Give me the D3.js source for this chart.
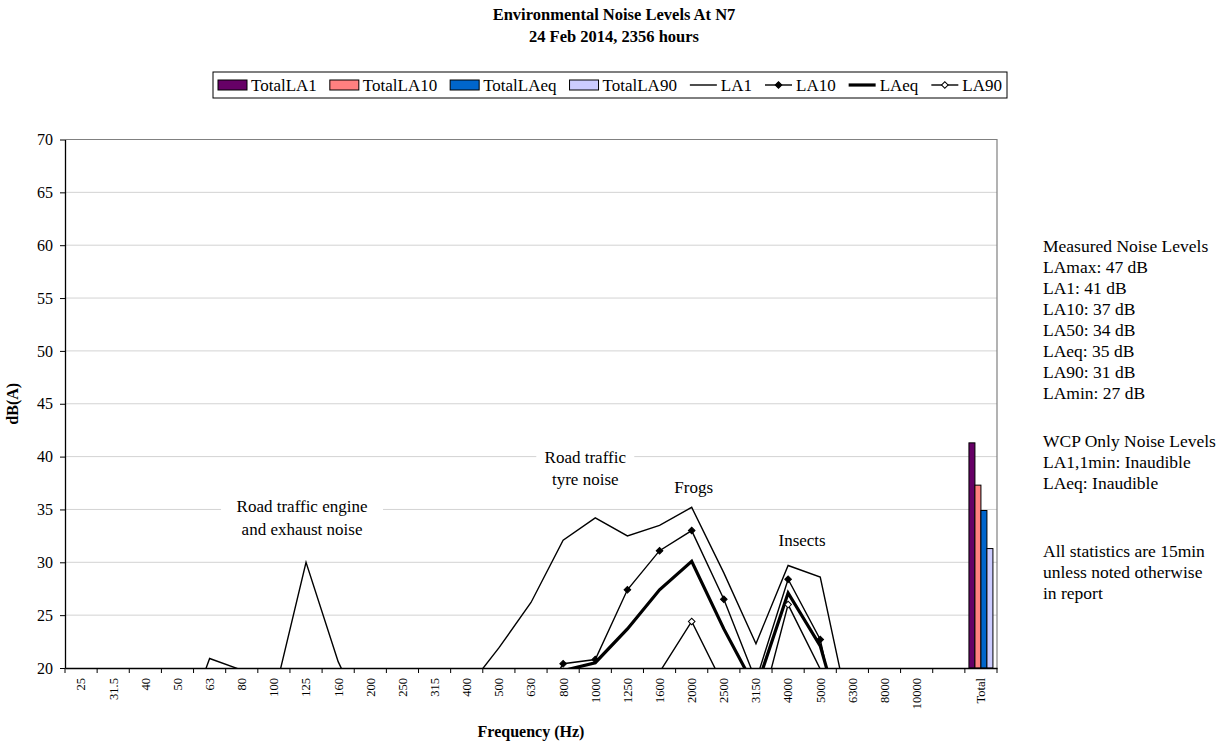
<!DOCTYPE html>
<html>
<head>
<meta charset="utf-8">
<script src="https://cdn.jsdelivr.net/npm/d3@7"></script>
<style>
  body { margin: 0; background: #fff; }
  svg { display: block; }
  text { font-family: "Liberation Serif", "Times New Roman", serif; fill: #000; }
</style>
</head>
<body>
<svg id="chart" width="1228" height="746"></svg>
<script>
// One-third-octave band centre frequencies (Hz)
const freqs = ["25","31.5","40","50","63","80","100","125","160","200","250","315","400",
  "500","630","800","1000","1250","1600","2000","2500","3150","4000","5000","6300","8000","10000"];

// Statistical levels per band, dB(A) (axis starts at 20 dB, lower values fall off the chart)
const la1  = [10.5, 9.8, 11.2, 12.6, 20.9, 19.8, 17.3, 30.0, 20.6, 14.2, 12.8, 13.5, 18.0,
  21.9, 26.2, 32.1, 34.2, 32.5, 33.5, 35.2, 29.0, 22.3, 29.7, 28.6, 14.4, 11.5, 9.0];
const la10 = [7.5, 7.0, 8.0, 9.0, 16.5, 14.5, 13.0, 17.5, 15.0, 10.5, 9.5, 10.0, 12.0,
  12.5, 15.3, 20.4, 20.8, 27.4, 31.1, 33.0, 26.5, 18.8, 28.4, 22.7, 8.7, 6.5, 5.0];
const laeq = [7.0, 6.5, 7.5, 8.0, 15.5, 13.5, 12.0, 18.6, 14.0, 9.5, 8.5, 9.0, 11.0,
  11.5, 13.0, 19.75, 20.5, 23.7, 27.4, 30.1, 23.7, 18.0, 27.1, 22.1, 11.4, 8.0, 6.0];
const la90 = [4.0, 4.0, 4.5, 5.0, 9.0, 8.0, 7.0, 10.5, 8.5, 5.5, 5.0, 5.5, 7.0,
  8.0, 10.0, 12.5, 14.0, 16.5, 19.6, 24.4, 18.3, 14.4, 26.0, 19.9, 6.5, 4.5, 3.5];

// Overall (broadband) levels shown as the "Total" bar group
const totalNames  = ["TotalLA1", "TotalLA10", "TotalLAeq", "TotalLA90"];
const totalValues = [41.3, 37.3, 34.9, 31.3];
const totalColors = ["#660066", "#FF8080", "#0066CC", "#CCCCFF"];

const yTicks = [20, 25, 30, 35, 40, 45, 50, 55, 60, 65, 70];

const notesMeasured = ["Measured Noise Levels", "LAmax: 47 dB", "LA1: 41 dB", "LA10: 37 dB",
  "LA50: 34 dB", "LAeq: 35 dB", "LA90: 31 dB", "LAmin: 27 dB"];
const notesWcp = ["WCP Only Noise Levels", "LA1,1min: Inaudible", "LAeq: Inaudible"];
const notesPeriod = ["All statistics are 15min", "unless noted otherwise", "in report"];

// Noise source captions: text, anchor band and level
const sourceLabels = [
  { lines: ["Road traffic engine", "and exhaust noise"], f: "125", v: 35.3 },
  { lines: ["Road traffic", "tyre noise"], f: "1000", v: 40.0 },
  { lines: ["Frogs"], f: "2000", v: 37.1 },
  { lines: ["Insects"], f: "4000", v: 32.1 }
];

// ---- layout ----
const svg = d3.select("#chart");
const plot = { left: 65, right: 997, top: 139.5, bottom: 668 };
const categories = [...freqs, " ", "Total"];

const x = d3.scaleBand().domain(categories).range([plot.left, plot.right]).padding(0);
const y = d3.scaleLinear().domain([20, 70]).range([plot.bottom, plot.top]);
const cx = f => x(f) + x.bandwidth() / 2;

// Title
svg.append("text").attr("x", 614).attr("y", 20).attr("text-anchor", "middle")
  .style("font-weight", "bold").style("font-size", "16.5px")
  .text("Environmental Noise Levels At N7");
svg.append("text").attr("x", 614).attr("y", 42).attr("text-anchor", "middle")
  .style("font-weight", "bold").style("font-size", "16.5px")
  .text("24 Feb 2014, 2356 hours");

// Gridlines
svg.append("g").selectAll("line").data(yTicks.filter(t => t > 20 && t < 70)).join("line")
  .attr("x1", plot.left).attr("x2", plot.right)
  .attr("y1", d => y(d)).attr("y2", d => y(d))
  .attr("stroke", "#d3d3d3").attr("stroke-width", 1);

// Plot area border (top & right)
svg.append("path")
  .attr("d", `M${plot.left},${y(70)}H${plot.right}V${plot.bottom}`)
  .attr("fill", "none").attr("stroke", "#808080").attr("stroke-width", 1.2);

// Source captions; the two traffic captions sit in white boxes that cut the gridline
const captionStyle = [
  { dx: -4, boxW: 162 },
  { dx: -10, boxW: 98 },
  { dx: 2, boxW: 0 },
  { dx: 14, boxW: 0 }
];
const annG = svg.append("g");
sourceLabels.forEach((a, k) => {
  const st = captionStyle[k];
  const g = annG.append("g");
  const x0 = cx(a.f) + st.dx;
  const y0 = y(a.v);
  if (st.boxW) {
    g.append("rect")
      .attr("x", x0 - st.boxW / 2).attr("y", y0 - 12)
      .attr("width", st.boxW).attr("height", 22.5 * (a.lines.length - 1) + 24)
      .attr("fill", "#fff");
  }
  a.lines.forEach((ln, i) =>
    g.append("text").attr("x", x0).attr("y", y0 + i * 22.5)
      .attr("dy", "0.35em").attr("text-anchor", "middle")
      .style("font-size", "17px").text(ln));
});

// Total bars
const xSub = d3.scaleBand().domain(totalNames).range([0, x.bandwidth()])
  .paddingInner(0).paddingOuter(0.68);
svg.append("g").attr("transform", `translate(${x("Total")},0)`)
  .selectAll("rect").data(totalNames).join("rect")
  .attr("x", d => xSub(d)).attr("width", xSub.bandwidth())
  .attr("y", (d, i) => y(totalValues[i]))
  .attr("height", (d, i) => y(20) - y(totalValues[i]))
  .attr("fill", (d, i) => totalColors[i])
  .attr("stroke", "#000").attr("stroke-width", 1);

// Spectrum lines, clipped to the plot area
svg.append("clipPath").attr("id", "plotClip").append("rect")
  .attr("x", plot.left).attr("y", plot.top)
  .attr("width", plot.right - plot.left).attr("height", plot.bottom - plot.top);

const series = [
  { name: "LA1",  values: la1,  width: 1.4, marker: null },
  { name: "LA10", values: la10, width: 1.4, marker: "filled" },
  { name: "LAeq", values: laeq, width: 3.2, marker: null },
  { name: "LA90", values: la90, width: 1.4, marker: "open" }
];

const line = d3.line().x((d, i) => cx(freqs[i])).y(d => y(d));
const linesG = svg.append("g").attr("clip-path", "url(#plotClip)");
series.forEach(s => {
  linesG.append("path").attr("d", line(s.values))
    .attr("fill", "none").attr("stroke", "#000")
    .attr("stroke-width", s.width).attr("stroke-linejoin", "miter");
});
const diamond = d3.symbol(d3.symbolSquare, 22);
series.filter(s => s.marker).forEach(s => {
  const pts = s.values.map((v, i) => ({ v, f: freqs[i] })).filter(p => p.v >= 20);
  linesG.append("g").selectAll("path").data(pts).join("path")
    .attr("d", diamond)
    .attr("transform", p => `translate(${cx(p.f)},${y(p.v)}) rotate(45)`)
    .attr("fill", s.marker === "filled" ? "#000" : "#fff")
    .attr("stroke", "#000").attr("stroke-width", 1);
});

// Y axis
const yAxis = svg.append("g").attr("transform", `translate(${plot.left},0)`)
  .call(d3.axisLeft(y).tickValues(yTicks).tickSize(5).tickPadding(7).tickSizeOuter(0));
yAxis.select(".domain").attr("stroke", "#000").attr("stroke-width", 1.3);
yAxis.selectAll(".tick line").attr("stroke", "#000");
yAxis.selectAll(".tick text").style("font-size", "16px")
  .style("font-family", '"Liberation Serif", serif');

// X axis: ticks on category boundaries, vertical labels at centres
const xAxis = svg.append("g").attr("transform", `translate(0,${plot.bottom})`)
  .call(d3.axisBottom(x).tickSize(0).tickSizeOuter(0));
xAxis.select(".domain").attr("stroke", "#000").attr("stroke-width", 1.3);
xAxis.selectAll(".tick text")
  .attr("transform", "rotate(-90)")
  .attr("x", -10).attr("y", 0).attr("dy", "0.35em")
  .style("text-anchor", "end").style("font-size", "12.5px")
  .style("font-family", '"Liberation Serif", serif');
const boundaries = [...categories.map(c => x(c)), plot.right];
xAxis.append("g").selectAll("line").data(boundaries).join("line")
  .attr("x1", d => d).attr("x2", d => d).attr("y1", 0).attr("y2", 5)
  .attr("stroke", "#000");

// Axis titles
svg.append("text").attr("x", (plot.left + plot.right) / 2).attr("y", 737)
  .attr("text-anchor", "middle").style("font-weight", "bold").style("font-size", "16px")
  .text("Frequency (Hz)");
svg.append("text").attr("transform", `translate(18,${(plot.top + plot.bottom) / 2}) rotate(-90)`)
  .attr("text-anchor", "middle").style("font-weight", "bold").style("font-size", "16px")
  .text("dB(A)");

// Legend: keys spread evenly across a framed box
const legendItems = [
  ...totalNames.map((n, i) => ({ name: n, kind: "bar", color: totalColors[i] })),
  ...series.map(s => ({ name: s.name, kind: "line", width: s.width, marker: s.marker }))
];
const legendBox = { left: 213, right: 1007, top: 72, height: 26 };
const legendY = legendBox.top + legendBox.height / 2;
const lg = svg.append("g");
lg.append("rect").attr("x", legendBox.left).attr("y", legendBox.top)
  .attr("width", legendBox.right - legendBox.left).attr("height", legendBox.height)
  .attr("fill", "#fff").attr("stroke", "#000").attr("stroke-width", 1);
const items = legendItems.map(it => {
  const g = lg.append("g");
  const symW = it.kind === "bar" ? 29 : 27;
  if (it.kind === "bar") {
    g.append("rect").attr("x", 0).attr("y", legendY - 5).attr("width", symW).attr("height", 10)
      .attr("fill", it.color).attr("stroke", "#000").attr("stroke-width", 1);
  } else {
    g.append("line").attr("x1", 0).attr("x2", symW).attr("y1", legendY).attr("y2", legendY)
      .attr("stroke", "#000").attr("stroke-width", it.width);
    if (it.marker) {
      g.append("path").attr("d", diamond)
        .attr("transform", `translate(${symW / 2},${legendY}) rotate(45)`)
        .attr("fill", it.marker === "filled" ? "#000" : "#fff")
        .attr("stroke", "#000").attr("stroke-width", 1);
    }
  }
  const t = g.append("text").attr("x", symW + 4).attr("y", legendY).attr("dy", "0.35em")
    .style("font-size", "17px").text(it.name);
  return { g, w: symW + 4 + t.node().getComputedTextLength() };
});
const pad = 5;
const used = d3.sum(items, d => d.w);
const gap = (legendBox.right - legendBox.left - 2 * pad - used) / (items.length - 1);
let lx = legendBox.left + pad;
items.forEach(d => { d.g.attr("transform", `translate(${lx},0)`); lx += d.w + gap; });

// Side notes
const notesG = svg.append("g").style("font-size", "17.5px");
[[notesMeasured, 246], [notesWcp, 441], [notesPeriod, 551]].forEach(([lines, top]) => {
  lines.forEach((ln, i) => {
    notesG.append("text").attr("x", 1043).attr("y", top + i * 21).attr("dy", "0.35em")
      .text(ln);
  });
});
</script>
</body>
</html>
